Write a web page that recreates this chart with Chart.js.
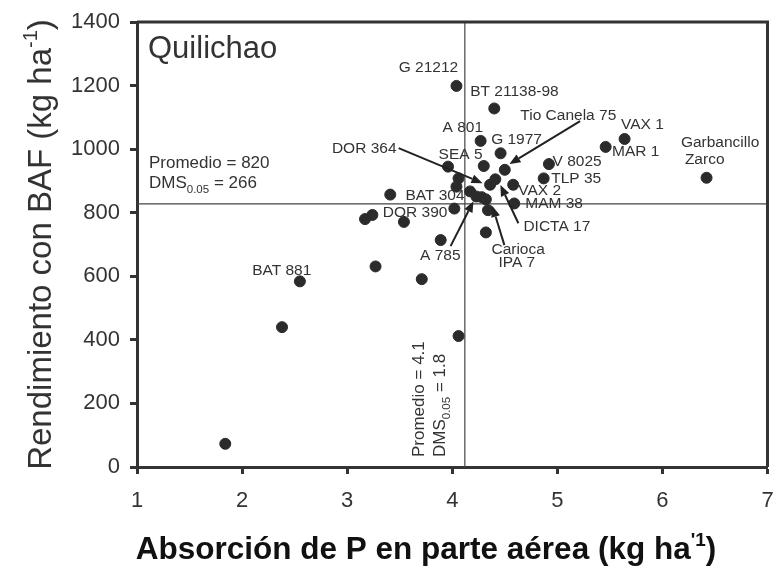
<!DOCTYPE html>
<html>
<head>
<meta charset="utf-8">
<script src="https://cdn.jsdelivr.net/npm/chart.js@4.4.1/dist/chart.umd.min.js"></script>
<style>
  html, body { margin: 0; padding: 0; background: #fff; }
  #wrap { width: 774px; height: 568px; }
</style>
</head>
<body>
<div id="wrap"><canvas id="chart"></canvas></div>
<script>
// Absorción de P (x) y rendimiento con BAF (y), Quilichao
const absorcionP = [1.84, 2.38, 2.55, 3.27, 3.17, 3.24, 3.41, 3.54, 3.71, 3.89,
    4.04, 4.40, 4.27, 4.46, 3.96, 4.30, 4.50, 4.06, 4.04, 4.41,
    4.36, 4.58, 4.17, 4.23, 4.28, 4.32, 4.34, 4.59, 4.02, 4.32,
    4.06, 4.92, 4.87, 5.46, 5.64, 6.42];
const rendimiento = [73, 440, 584, 631, 780, 793, 857, 771, 591, 714,
    1199, 1128, 1026, 987, 945, 947, 935, 908, 882, 905,
    888, 888, 867, 851, 849, 842, 808, 829, 813, 738,
    412, 953, 908, 1007, 1032, 910];

const xTicks = [1, 2, 3, 4, 5, 6, 7];
const yTicks = [0, 200, 400, 600, 800, 1000, 1200, 1400];

// reference lines (labels say 4.1 and 820)
const promedioX = 4.12;
const promedioY = 828;

// genotype names and where their text sits (left, baseline) in data units
const nombres = ["G 21212", "BT 21138-98", "Tio Canela 75", "VAX 1", "Garbancillo", "Zarco",
    "A 801", "G 1977", "MAR 1", "V 8025", "DOR 364", "SEA 5", "TLP 35", "VAX 2",
    "BAT 304", "MAM 38", "DOR 390", "DICTA 17", "Carioca", "IPA 7", "A 785", "BAT 881"];
const nombreX = [3.49, 4.171, 4.648, 5.606, 6.176, 6.214,
    3.908, 4.37, 5.521, 4.954, 2.855, 3.87, 4.942, 4.629,
    3.554, 4.695, 3.339, 4.677, 4.373, 4.439, 3.694, 2.096];
const nombreY = [1242, 1167, 1091, 1062, 1007, 953,
    1054, 1016, 978, 947, 988, 968, 892, 855,
    840, 814, 787, 742, 670, 629, 651, 604];

// arrows: from (x1,y1) to tip (x2,y2)
const flechaX1 = [3.49, 5.217, 3.984, 4.496, 4.629];
const flechaY1 = [1003, 1088, 695, 698, 767];
const flechaX2 = [4.288, 4.544, 4.202, 4.382, 4.458];
const flechaY2 = [893, 953, 836, 821, 887];

const FONT = '"Liberation Sans", Arial, sans-serif';
const INK = '#333';

const puntos = absorcionP.map((x, i) => ({ x: x, y: rendimiento[i] }));

function textWithScript(ctx, parts, x, y) {
    // parts: [text, size, dy, bold]
    let cx = x;
    parts.forEach((p) => {
        ctx.font = (p[3] ? 'bold ' : '') + p[1] + 'px ' + FONT;
        ctx.fillText(p[0], cx, y + p[2]);
        cx += ctx.measureText(p[0]).width;
    });
    return cx - x;
}

function widthOf(ctx, parts) {
    let w = 0;
    parts.forEach((p) => {
        ctx.font = (p[3] ? 'bold ' : '') + p[1] + 'px ' + FONT;
        w += ctx.measureText(p[0]).width;
    });
    return w;
}

const decoraciones = {
    id: 'decoraciones',
    beforeDatasetsDraw(chart) {
        const { ctx, chartArea, scales } = chart;
        const px = scales.x.getPixelForValue(promedioX);
        const py = scales.y.getPixelForValue(promedioY);
        ctx.save();
        ctx.strokeStyle = '#444';
        ctx.lineWidth = 1.2;
        ctx.beginPath();
        ctx.moveTo(px, chartArea.top);
        ctx.lineTo(px, chartArea.bottom);
        ctx.moveTo(chartArea.left, py);
        ctx.lineTo(chartArea.right, py);
        ctx.stroke();
        ctx.restore();
    },
    afterDraw(chart) {
        const { ctx, chartArea, scales } = chart;
        const xs = scales.x, ys = scales.y;
        ctx.save();

        // frame top and right
        ctx.strokeStyle = INK;
        ctx.lineWidth = 3;
        ctx.beginPath();
        ctx.moveTo(chartArea.left, chartArea.top);
        ctx.lineTo(chartArea.right, chartArea.top);
        ctx.lineTo(chartArea.right, chartArea.bottom);
        ctx.stroke();

        ctx.fillStyle = INK;
        ctx.textBaseline = 'alphabetic';
        ctx.textAlign = 'left';

        // site name
        ctx.font = '31px ' + FONT;
        ctx.fillText('Quilichao', chartArea.left + 11, chartArea.top + 36);

        // genotype labels
        ctx.font = '15.5px ' + FONT;
        nombres.forEach((n, i) => {
            ctx.fillText(n, xs.getPixelForValue(nombreX[i]), ys.getPixelForValue(nombreY[i]));
        });

        // arrows
        ctx.strokeStyle = '#222';
        ctx.fillStyle = '#222';
        ctx.lineWidth = 2;
        flechaX1.forEach((v, i) => {
            const x1 = xs.getPixelForValue(v), y1 = ys.getPixelForValue(flechaY1[i]);
            const x2 = xs.getPixelForValue(flechaX2[i]), y2 = ys.getPixelForValue(flechaY2[i]);
            const a = Math.atan2(y2 - y1, x2 - x1);
            const L = 11, W = 4.5;
            const bx = x2 - L * Math.cos(a), by = y2 - L * Math.sin(a);
            ctx.beginPath();
            ctx.moveTo(x1, y1);
            ctx.lineTo(bx, by);
            ctx.stroke();
            ctx.beginPath();
            ctx.moveTo(x2, y2);
            ctx.lineTo(bx + W * Math.sin(a), by - W * Math.cos(a));
            ctx.lineTo(bx - W * Math.sin(a), by + W * Math.cos(a));
            ctx.closePath();
            ctx.fill();
        });

        // mean / LSD notes
        ctx.fillStyle = INK;
        const px = xs.getPixelForValue(promedioX);
        const py = ys.getPixelForValue(promedioY);
        ctx.font = '17px ' + FONT;
        ctx.fillText('Promedio = 820', chartArea.left + 12, py - 36);
        textWithScript(ctx, [['DMS', 17, 0], ['0.05', 11.5, 5], [' = 266', 17, 0]],
            chartArea.left + 12, py - 16);

        ctx.save();
        ctx.translate(px - 41, chartArea.bottom - 10);
        ctx.rotate(-Math.PI / 2);
        ctx.font = '17px ' + FONT;
        ctx.fillText('Promedio = 4.1', 0, 0);
        textWithScript(ctx, [['DMS', 17, 0], ['0.05', 11.5, 5], [' = 1.8', 17, 0]], 0, 21);
        ctx.restore();

        // y axis title
        const yParts = [['Rendimiento con BAF (kg ha', 33, 0], ['-1', 20, -14], [')', 33, 0]];
        const yw = widthOf(ctx, yParts);
        ctx.save();
        ctx.translate(51, (chartArea.top + chartArea.bottom) / 2 + yw / 2);
        ctx.rotate(-Math.PI / 2);
        textWithScript(ctx, yParts, 0, 0);
        ctx.restore();

        // x axis title
        const xParts = [['Absorción de P en parte aérea (kg ha', 31.5, 0, true], ["'1", 19, -13, true], [')', 31.5, 0, true]];
        const xw = widthOf(ctx, xParts);
        ctx.fillStyle = '#111';
        textWithScript(ctx, xParts, 426 - xw / 2, 559);

        ctx.restore();
    }
};

new Chart(document.getElementById('chart'), {
    type: 'scatter',
    data: {
        datasets: [{
            data: puntos,
            backgroundColor: '#2b2b2b',
            borderColor: '#2b2b2b',
            pointRadius: 5.5,
            pointHoverRadius: 5.5,
        }],
    },
    options: {
        responsive: true,
        maintainAspectRatio: false,
        animation: false,
        layout: { padding: { top: 22, right: 4, left: 0, bottom: 0 } },
        plugins: {
            legend: { display: false },
            tooltip: { enabled: false },
        },
        scales: {
            x: {
                type: 'linear',
                min: 1,
                max: 7,
                afterBuildTicks: (s) => { s.ticks = xTicks.map((v) => ({ value: v })); },
                afterFit: (s) => { s.height = 101; s.paddingLeft = 0; s.paddingRight = 0; },
                ticks: { color: INK, padding: 14, font: { family: FONT, size: 22 }, callback: (v) => String(v) },
                grid: { drawOnChartArea: false, drawTicks: true, tickLength: 7, tickWidth: 3, tickColor: INK },
                border: { display: true, width: 3, color: INK },
            },
            y: {
                min: 0,
                max: 1400,
                afterBuildTicks: (s) => { s.ticks = yTicks.map((v) => ({ value: v })); },
                afterFit: (s) => { s.width = 137; s.paddingTop = 0; s.paddingBottom = 0; },
                ticks: { color: INK, padding: 10, font: { family: FONT, size: 22 }, callback: (v) => String(v) },
                grid: { drawOnChartArea: false, drawTicks: true, tickLength: 7, tickWidth: 3, tickColor: INK },
                border: { display: true, width: 3, color: INK },
            },
        },
    },
    plugins: [decoraciones],
});
</script>
</body>
</html>
